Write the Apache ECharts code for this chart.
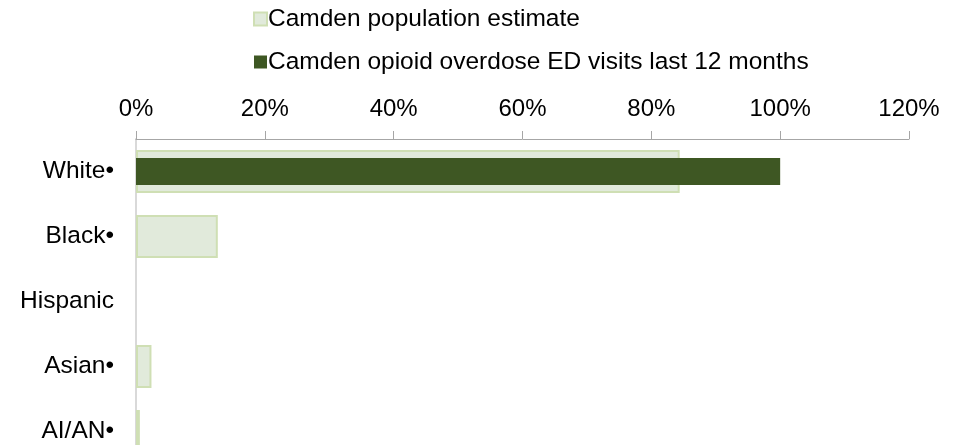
<!DOCTYPE html>
<html>
<head>
<meta charset="utf-8">
<script src="https://cdn.jsdelivr.net/npm/echarts@6/dist/echarts.min.js"></script>
<style>html,body{margin:0;padding:0;background:#fff;overflow:hidden;width:961px;height:445px}#c{width:961px;height:464px}</style>
</head>
<body>
<div id="c"></div>
<script>
var categories = ['White\u2022', 'Black\u2022', 'Hispanic', 'Asian\u2022', 'AI/AN\u2022'];
var populationEstimate = [84.4, 12.7, null, 2.4, 0.6];
var edVisits = [100, 0, null, 0, 0];
var xTicks = [0, 20, 40, 60, 80, 100, 120];
var seriesNames = ['Camden population estimate', 'Camden opioid overdose ED visits last 12 months'];

var font = 'Liberation Sans, Arial, sans-serif';
var chart = echarts.init(document.getElementById('c'));
chart.setOption({
  animation: false,
  legend: {
    orient: 'vertical',
    left: 248,
    top: 1,
    itemWidth: 13,
    itemHeight: 13,
    itemGap: 17,
    icon: 'rect',
    textStyle: { fontFamily: font, fontSize: 24.5, lineHeight: 26, color: '#000', padding: [0, 0, 0, -4] },
    data: seriesNames
  },
  grid: { left: 136, right: 52, top: 139, bottom: 0, containLabel: false },
  xAxis: {
    type: 'value',
    position: 'top',
    min: xTicks[0],
    max: xTicks[xTicks.length - 1],
    interval: 20,
    axisLine: { show: true, lineStyle: { color: '#a6a6a6', width: 1 } },
    axisTick: { show: true, length: 8, lineStyle: { color: '#a6a6a6' } },
    splitLine: { show: false },
    axisLabel: { formatter: '{value}%', fontFamily: font, fontSize: 24, color: '#000', margin: 18 }
  },
  yAxis: [{
    type: 'category',
    data: categories,
    inverse: true,
    axisLine: { show: true, lineStyle: { color: '#d9d9d9', width: 2 } },
    axisTick: { show: false },
    axisLabel: { fontFamily: font, fontSize: 24.5, color: '#000', margin: 22 }
  }, {
    type: 'category',
    data: categories,
    inverse: true,
    show: false,
    position: 'left'
  }],
  series: [{
    name: seriesNames[0],
    type: 'bar',
    yAxisIndex: 0,
    data: populationEstimate,
    barWidth: 43,
    itemStyle: { color: '#e1eadb', borderColor: '#cfdfb4', borderWidth: 2 }
  }, {
    name: seriesNames[1],
    type: 'bar',
    yAxisIndex: 1,
    data: edVisits,
    barWidth: 27,
    itemStyle: { color: '#3e5723' }
  }]
});
</script>
</body>
</html>
